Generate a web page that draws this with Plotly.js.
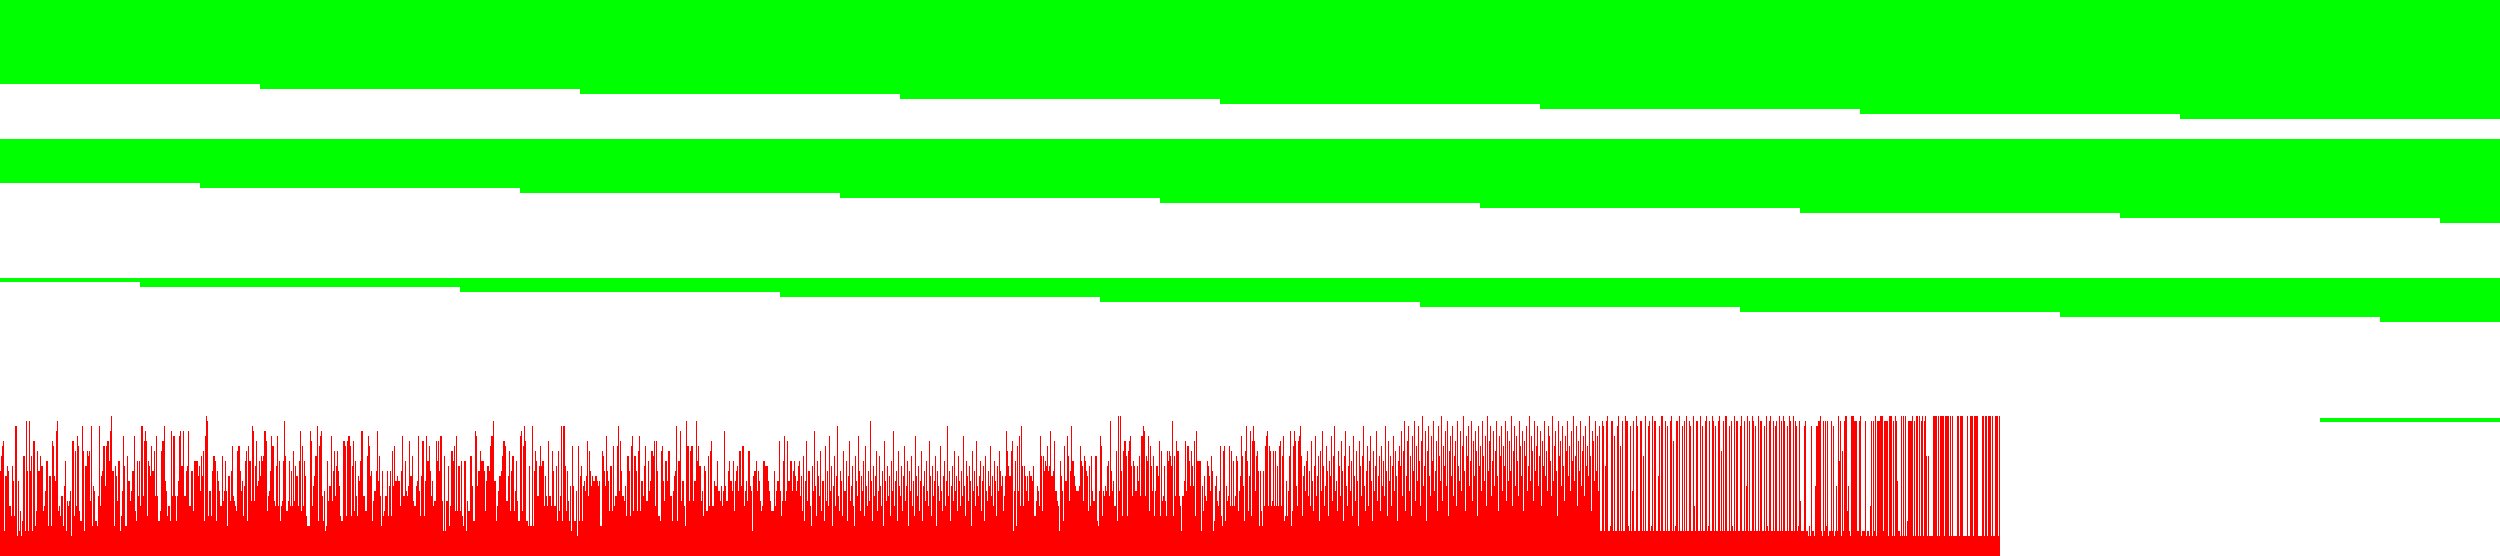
<!DOCTYPE html>
<html>
<head>
<meta charset="utf-8">
<script src="https://cdn.plot.ly/plotly-3.0.1.min.js"></script>
<style>html,body{margin:0;padding:0;background:#fff;}#chart{width:2500px;height:556px;}</style>
</head>
<body>
<div id="chart"></div>
<script>
// Red bar levels (one bar per x unit), read in chunks of 200
const red00 = [13,16,18,19,1,12,12,14,13,6,6, 4,14,11,4,22,22,0,11,1,5,0, 3,16,16,1,23,13,1,23,13,16,1, 19,19,2,5,17,13,13,16,14,14,5, 6,9,15,15,2,12,12,2,19,18,12, 11,21,23,5,6,4,8,8,2,10,15, 1,7,6,7,9,0,19,19,4,17,6, 20,18,5,3,3,22,17,1,14,14,17, 16,17,7,22,2,10,9,3,3,2,8, 22,6,12,13,18,18,10,18,19,19,15, 21,24,13,13,2,14,12,7,15,15,1, 4,9,20,14,2,2,16,11,11,7,9, 13,13,20,5,3,15,8,15,6,22,22, 8,19,21,19,4,15,14,12,18,13,13, 17,8,20,8,3,3,5,17,19,19,22, 11,9,4,6,6,3,21,8,20,20,8, 3,8,11,20,21,14,14,21,8,8,13, 14,21,6,6,13,13,5,15,15,15,15, 12,14];
const red01 = [9,16,12,17,3,20,24,23,4,9,9, 4,13,16,16,15,3,13,11,9,6,6, 16,7,9,15,9,2,12,12,7,13,18, 8,7,6,5,17,18,18,13,9,11,4, 10,15,17,3,18,15,15,7,22,21,7, 14,19,10,11,15,12,16,15,16,21,21, 19,5,8,9,13,20,18,18,7,6,14, 20,6,15,3,6,7,15,23,16,5,5, 7,15,6,13,6,17,7,14,12,12,6, 15,21,5,18,6,15,12,4,2,2,2, 21,19,6,10,12,16,16,22,3,18,20, 21,8,3,9,1,2,15,7,10,10,20, 7,13,17,8,14,17,13,10,4,3,3, 19,19,18,4,19,20,20,18,4,14,19, 5,15,8,4,12,11,15,21,21,8,8, 5,5,16,20,18,12,13,3,7,9,9, 13,21,11,16,8,2,13,4,5,8,8, 13,4,10,13,4,17,10,18,11,11, 12,11,11];
const red02 = [6,13,20,8,8,15,9,8,10,19,12,12, 16,7,6,6,10,11,20,9,4,12,19,19, 4,11,20,15,15,18,13,8,11,6,7,7, 19,15,19,13,20,20,7,1,16,1,7,7, 14,2,6,17,17,15,18,5,20,5,14,14, 5,15,4,2,15,15,1,7,5,5,16,16, 10,3,3,21,20,10,13,13,17,15,15,15, 13,5,11,14,14,13,18,20,20,23,11,11, 3,6,9,12,12,13,16,19,19,18,7,7, 12,17,5,13,16,16,5,9,15,7,3,3, 20,21,5,18,22,19,3,3,2,14,2,2, 22,2,13,17,15,8,8,14,18,14,15,15, 6,12,8,6,19,8,8,6,17,13,6,6, 14,3,17,5,8,22,3,22,22,14,5, 13,7,3,10,1,18,10,3,3,9,0, 18,3,12,14,3,10,11,9,12,19, 8,17,13,10,12,11,11, 12,12,11,10,11];
const red03 = [2,2,17,16,13,10,20,13,11,5,14,14, 5,18,6,8,8,18,22,9,19,13,8,8, 7,10,4,16,16,13,4,18,20,5,16,16, 13,5,17,20,5,11,11,8,14,18,7,7, 15,9,11,17,17,16,19,6,19,13,4,4, 3,17,18,11,7,15,15,11,17,17,8,8, 3,9,12,13,22,3,15,15,21,7,11,11, 6,2,23,18,18,7,17,18,18,7,11,11, 23,15,18,14,14,7,9,4,14,13,5,5, 16,6,17,19,6,6,11,10,10,15,9,9, 7,10,6,9,21,10,7,7,13,15,11,11, 9,15,5,11,13,14,9,17,17,10,18,18, 6,9,11,7,17,17,10,9,1,12,13,13, 15,9,13,11,7,5,6,15,15,14,14,14, 11,9,7,5,5,5,13,6,9,11,11, 19,9,4,7,15,20,7,9,19,11,11, 15,15, 9,13,15,12,9,11,14,15];
const red04 = [8,12,5,16,3,11,19,7,13,13, 6,2,14,9,21,10,4,15,12,8, 17,5,11,11,3,18,7,13,6,20, 9,14,2,10,16,6,12,22,8,5, 13,11,4,17,9,9,15,3,12,19, 7,10,14,6,2,16,11,8,20,13, 5,12,9,15,4,18,10,6,13,7, 23,11,3,14,8,12,17,5,9,16, 10,6,13,2,19,11,7,14,8,12, 4,15,9,21,6,11,13,3,17,10, 8,14,5,12,18,7,10,15,2,13, 9,16,6,11,4,20,12,8,14,5, 11,17,3,10,13,7,15,9,6,19, 12,4,14,8,11,16,2,13,10,7, 18,9,5,12,15,6,11,22,8,13, 3,10,14,7,17,9,12,5,16,11, 6,13,8,20,10,4,15,12,7,14, 11,2,17,9,13,6,19,10,8,12, 15,5,11,14,3,16,9,7,13,10, 18,8,12,6,15,11,4,14,9,17];
const red05 = [13,10,12,5,8,12,21,17,14,12,12, 17,19,1,9,15,2,18,9,20,6, 22,14,6,14,12,9,12,7,13,12,12, 11,14,4,4,7,10,9,6,20,16, 5,16,13,15,14,18,13,14,21,12,12, 13,19,9,9,7,6,1,15,12,9, 3,18,11,11,20,16,7,13,22,15,15, 12,10,9,9,9,10,18,15,14,7, 16,15,13,12,5,14,6,16,9,7,7, 16,16,3,2,9,20,18,4,9,8, 10,9,14,15,8,23,13,9,11,6,6, 17,3,24,9,24,13,4,17,19,19, 16,4,17,19,20,14,8,15,14,9,9, 14,11,16,8,20,20,22,21,8,16, 15,20,5,18,14,9,16,4,9,14,14, 12,19,4,17,7,8,14,7,4,17, 15,17,16,14,23,4,16,8,19,17,17, 8,6,1,8,8,11,19,9,18,18, 15,10,17,14,10,19,4,21,15, 15,15];
const red06 = [15,1,10,5,12,8,7,15,14,12, 9,16,13,1,3,10,12,7,6,9, 18,4,2,17,18,3,10,7,8,18, 6,17,6,15,6,8,16,15,5,9, 12,20,16,10,3,17,22,15,5,12, 21,4,19,22,19,9,16,17,13,2, 13,5,2,13,6,18,20,21,6,18, 17,6,7,17,6,17,6,14,6,18, 19,6,16,20,3,4,11,4,9,16, 21,2,5,18,21,19,10,6,19,20, 22,16,4,12,14,9,15,17,8,13, 6,19,11,5,14,20,8,12,16,3, 17,9,21,14,6,10,18,13,4,15, 12,20,7,16,22,9,11,5,17,14, 8,19,13,3,16,21,10,6,14,18, 9,15,4,20,12,7,17,11,2,19, 14,8,16,22,10,5,13,18,6,15, 20,11,3,17,9,14,21,7,12,16, 5,18,10,15,8,22,13,4,19,11, 16,6,14,20,9,17,12,3,15,18];
const red07 = [14,21,8,17,23,5,12,19,22,9, 16,4,20,13,23,7,18,11,22,15, 6,19,24,10,14,21,3,17,22,12, 8,20,15,23,9,13,19,5,22,16, 11,24,7,18,14,21,10,23,4,17, 20,12,22,8,16,19,6,23,14,11, 21,9,18,24,13,5,20,16,22,10, 15,23,7,19,12,21,17,4,22,14, 18,9,23,16,11,20,6,24,13,19, 22,8,15,21,10,17,23,12,5,20, 16,22,9,18,14,23,7,21,11,19, 13,24,6,17,22,10,20,15,8,23, 18,12,21,5,19,16,22,9,14,24, 11,20,17,7,23,13,18,22,10,16, 21,6,19,14,23,12,17,9,22,20, 15,8,24,11,18,21,13,4,23,16, 19,10,22,14,7,20,17,23,12,18, 9,21,15,24,11,16,22,6,19,13, 23,10,17,20,8,22,14,18,12,24, 16,5,21,19,11,23,13,20,9,22];
const red08 = [1,1,23,22,1,14,23,24,1,1, 2,23,23,1,20,1,1,22,24,1, 18,1,23,1,1,24,23,23,2,1, 22,1,9,23,1,1,24,22,1,1, 23,23,1,16,1,24,1,1,22,23, 1,2,24,1,23,23,1,1,12,22, 1,24,24,1,1,23,1,22,1,1, 23,24,1,19,1,2,23,23,1,24, 1,1,22,1,23,1,24,1,1,23, 22,1,1,24,6,1,23,23,1,1, 24,1,22,1,1,23,24,1,2,23, 1,1,24,23,1,22,1,1,23,24, 1,17,1,23,1,24,24,1,1,22, 1,23,2,1,24,1,23,23,1,1, 22,24,1,1,23,1,10,24,1,23, 1,1,24,23,1,22,1,1,24,1, 23,23,1,1,22,1,24,2,1,23, 24,1,1,23,1,22,23,1,1,24, 1,23,1,24,23,1,1,22,1,24, 23,1,1,24,1,23,22,1,2,23];
const red09 = [7,1,1,1,22,23,1,1,0,2, 0,22,1,1,0,10,22,22,23,23, 24,1,0,23,1,23,2,23,0,1, 1,23,1,22,0,1,10,1,24,15, 23,0,17,1,23,24,24,5,10,1, 0,24,24,24,23,23,23,1,1,23, 24,0,1,1,1,23,0,1,1,0, 6,23,0,23,1,24,0,23,23,23, 24,24,24,1,23,23,23,23,0,24, 24,24,0,23,0,24,23,11,1,1, 0,24,0,24,0,24,0,3,23,23, 23,23,24,0,23,0,24,24,0,24, 0,23,24,0,23,24,16,0,16,0, 0,0,0,24,24,24,24,0,24,0, 24,24,24,24,0,24,24,24,24,0, 24,0,24,0,0,0,0,24,24,0, 24,24,24,0,0,0,0,24,0,0, 24,24,24,0,24,24,24,24,0,0, 0,0,24,24,0,24,24,0,24,24, 24,0,24,0,0,24,24,24,0,24];

// Green bands: step positions, lower edges and upper edge (value units)
const band1Steps = [0,260,580,900,1220,1540,1860,2180,2500];
const band1Low   = [90.4,89.4,88.4,87.4,86.4,85.4,84.4,83.4];
const band1High  = 108;
const band2Steps = [0,200,520,840,1160,1480,1800,2120,2440,2500];
const band2Low   = [70.6,69.6,68.6,67.6,66.6,65.6,64.6,63.6,62.6];
const band2High  = 79.4;
const band3Steps = [0,140,460,780,1100,1420,1740,2060,2380,2500];
const band3Low   = [50.8,49.8,48.8,47.8,46.8,45.8,44.8,43.8,42.8];
const band3High  = 51.6;
const lineSteps  = [2320,2500];
const lineLow    = [22.8];
const lineHigh   = 23.6;

const yFloor = -4;
const yCeil = 107.2;
const GREEN = '#00ff00';
const RED = '#ff0000';

const redLevels = [].concat(red00, red01, red02, red03, red04, red05, red06, red07, red08, red09);
const N = redLevels.length;
const redX = [];
for (let i = 0; i <= N; i++) redX.push(i);
const redY = redLevels.concat([redLevels[N - 1]]);

function band(steps, lows, high) {
  const ys = lows.concat([lows[lows.length - 1]]);
  const x0 = steps[0], x1 = steps[steps.length - 1];
  return [
    {x: steps, y: ys, type: 'scatter', mode: 'lines', line: {shape: 'hv', width: 0, color: GREEN}, hoverinfo: 'skip', showlegend: false},
    {x: [x0, x1], y: [high, high], type: 'scatter', mode: 'lines', line: {width: 0, color: GREEN}, fill: 'tonexty', fillcolor: GREEN, hoverinfo: 'skip', showlegend: false}
  ];
}

const traces = [
  {x: [0, N], y: [yFloor, yFloor], type: 'scatter', mode: 'lines', line: {width: 0, color: RED}, hoverinfo: 'skip', showlegend: false},
  {x: redX, y: redY, type: 'scatter', mode: 'lines', line: {shape: 'hv', width: 0, color: RED}, fill: 'tonexty', fillcolor: RED, hoverinfo: 'skip', showlegend: false}
].concat(band(band1Steps, band1Low, band1High))
 .concat(band(band2Steps, band2Low, band2High))
 .concat(band(band3Steps, band3Low, band3High))
 .concat(band(lineSteps, lineLow, lineHigh));

const layout = {
  width: 2500, height: 556, autosize: false,
  margin: {l: 0, r: 0, t: 0, b: 0, pad: 0},
  paper_bgcolor: '#ffffff', plot_bgcolor: '#ffffff',
  showlegend: false,
  xaxis: {range: [0, 2500], visible: false, fixedrange: true},
  yaxis: {range: [yFloor, yCeil], visible: false, fixedrange: true}
};

Plotly.newPlot('chart', traces, layout, {staticPlot: true, displayModeBar: false});
</script>
</body>
</html>
